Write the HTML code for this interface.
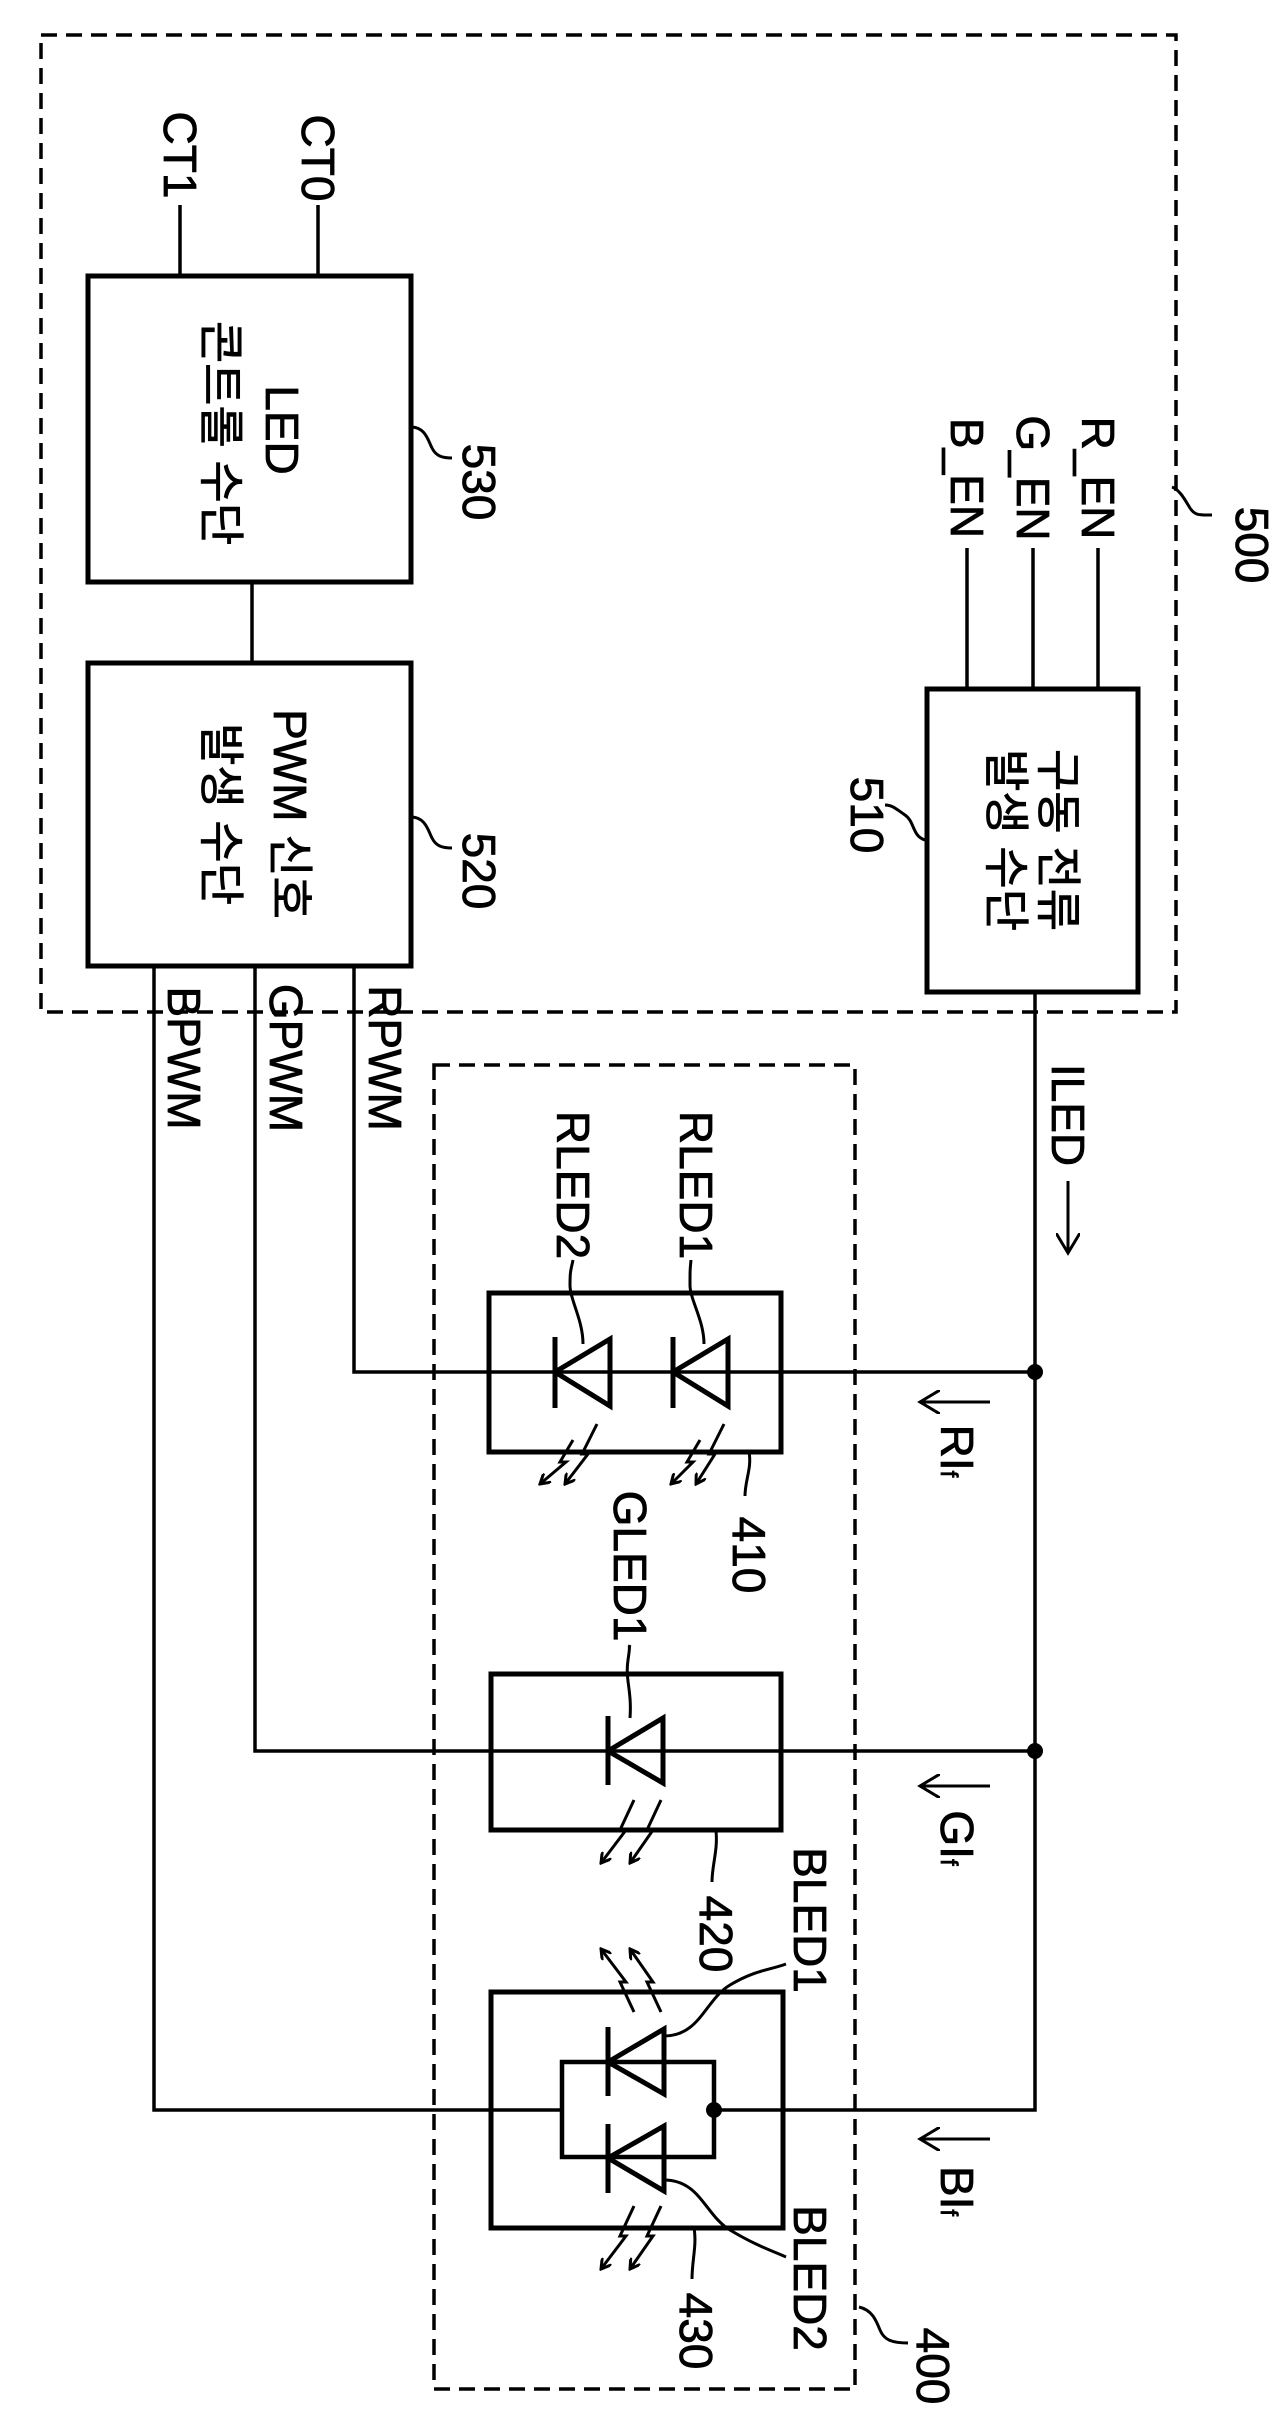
<!DOCTYPE html>
<html><head><meta charset="utf-8"><style>html,body{margin:0;padding:0;background:#fff}svg{display:block}</style></head>
<body>
<svg width="1277" height="2430" viewBox="0 0 1277 2430" xmlns="http://www.w3.org/2000/svg" font-family="'Liberation Sans','Noto Sans CJK KR',sans-serif" font-size="46" fill="#000">
<defs>
<marker id="ah" markerWidth="12" markerHeight="12" refX="10" refY="6" orient="auto" markerUnits="userSpaceOnUse"><path d="M0,0 L10,6 L0,12" fill="none" stroke="#000" stroke-width="3"/></marker>
<marker id="ah2" markerWidth="24" markerHeight="24" refX="20" refY="12" orient="auto" markerUnits="userSpaceOnUse"><path d="M0,0 L20,12 L0,24" fill="none" stroke="#000" stroke-width="3"/></marker>
</defs>
<g fill="none" stroke="#000">
<rect x="41" y="35" width="1135" height="977" stroke-width="3.5" stroke-dasharray="16,9"/>
<rect x="434" y="1065" width="421" height="1324" stroke-width="3.5" stroke-dasharray="16,9"/>
<rect x="88" y="276" width="323" height="306" stroke-width="5"/>
<rect x="88" y="663" width="323" height="303" stroke-width="5"/>
<rect x="927" y="689" width="211" height="303" stroke-width="5"/>
<rect x="489" y="1293" width="292" height="159" stroke-width="5"/>
<rect x="491" y="1674" width="290" height="156" stroke-width="5"/>
<rect x="491" y="1992" width="292" height="236" stroke-width="5"/>
<g stroke-width="3.5">
<line x1="180" y1="205" x2="180" y2="276"/>
<line x1="318" y1="205" x2="318" y2="276"/>
<line x1="252" y1="582" x2="252" y2="663"/>
<line x1="1098" y1="548" x2="1098" y2="689"/>
<line x1="1033" y1="548" x2="1033" y2="689"/>
<line x1="967" y1="548" x2="967" y2="689"/>
<polyline points="1035,992 1035,2110 714,2110"/>
<polyline points="354,966 354,1372 1035,1372"/>
<polyline points="255,966 255,1751 1035,1751"/>
<polyline points="154,966 154,2110 562,2110"/>
<rect x="562" y="2062" width="152" height="95" stroke-width="4.5"/>
</g>
<g stroke-width="5">
<line x1="555" y1="1337" x2="555" y2="1408"/><polygon points="555,1372 610,1339 610,1406"/>
<line x1="673" y1="1337" x2="673" y2="1408"/><polygon points="673,1372 728,1339 728,1406"/>
<line x1="608" y1="1716" x2="608" y2="1785"/><polygon points="608,1751 663,1718 663,1783"/>
<line x1="608" y1="2027" x2="608" y2="2096"/><polygon points="608,2062 664,2029 664,2094"/>
<line x1="608" y1="2124" x2="608" y2="2193"/><polygon points="608,2158 664,2126 664,2191"/>
</g>
<g stroke-width="3" marker-end="url(#ah)">
<polyline points="573,1440 560,1462 566,1462 540,1484"/>
<polyline points="597,1424 582,1454 588,1454 565,1484"/>
<polyline points="700,1440 687,1462 693,1462 671,1484"/>
<polyline points="724,1424 709,1454 715,1454 696,1484"/>
<polyline points="634,1800 620,1830 626,1830 601,1863"/>
<polyline points="661,1800 647,1830 653,1830 630,1863"/>
<polyline points="634,2012 620,1982 626,1982 601,1949"/>
<polyline points="661,2012 647,1982 653,1982 630,1949"/>
<polyline points="634,2206 620,2236 626,2236 601,2269"/>
<polyline points="661,2206 647,2236 653,2236 630,2269"/>
</g>
<g stroke-width="3" marker-end="url(#ah2)">
<line x1="1068" y1="1181" x2="1068" y2="1253"/>
<line x1="990" y1="1402" x2="920" y2="1402"/>
<line x1="990" y1="1786" x2="920" y2="1786"/>
<line x1="990" y1="2139" x2="920" y2="2139"/>
</g>
<g stroke-width="3">
<path d="M411,427 C425,427 428,440 432,448 S442,458 452,458"/>
<path d="M411,817 C425,817 428,830 432,838 S442,848 452,848"/>
<path d="M925,840 C912,836 915,822 905,815 S892,805 885,805"/>
<path d="M1172,487 C1180,490 1185,500 1190,508 S1200,515 1212,515"/>
<path d="M859,2307 C872,2310 876,2320 880,2330 S892,2343 908,2343"/>
<path d="M583,1344 C583,1320 570,1300 570,1285 S571,1270 573,1260"/>
<path d="M704,1344 C704,1320 690,1300 690,1285 S690,1270 691,1260"/>
<path d="M749,1452 C752,1468 745,1480 745,1496"/>
<path d="M630,1718 C632,1690 625,1680 628,1660 S628,1650 630,1645"/>
<path d="M716,1831 C718,1850 712,1865 712,1882"/>
<path d="M664,2036 C700,2036 705,2000 730,1985 S770,1970 786,1964"/>
<path d="M664,2180 C700,2180 705,2215 730,2230 S770,2250 786,2257"/>
<path d="M694,2228 C697,2245 692,2260 692,2279"/>
</g>
</g>
<g fill="#000"><circle cx="1035" cy="1372" r="8"/><circle cx="1035" cy="1751" r="8"/><circle cx="714" cy="2110" r="8"/></g>
<g text-anchor="middle" dominant-baseline="central" stroke="#000" stroke-width="0.8">
<text transform="translate(180,155) rotate(90)">CT1</text>
<text transform="translate(318,158) rotate(90)">CT0</text>
<text transform="translate(282,430) rotate(90)">LED</text>
<text transform="translate(221,433) rotate(90)">콘트롤 수단</text>
<text transform="translate(290,814) rotate(90)">PWM 신호</text>
<text transform="translate(221,814) rotate(90)">발생 수단</text>
<text transform="translate(1058,840) rotate(90)">구동 전류</text>
<text transform="translate(1006,840) rotate(90)">발생 수단</text>
<text transform="translate(1098,478) rotate(90)">R_EN</text>
<text transform="translate(1033,478) rotate(90)">G_EN</text>
<text transform="translate(967,478) rotate(90)">B_EN</text>
<text transform="translate(479,482) rotate(90)">530</text>
<text transform="translate(479,871) rotate(90)">520</text>
<text transform="translate(867,815) rotate(90)">510</text>
<text transform="translate(1252,545) rotate(90)">500</text>
<text transform="translate(184,1058) rotate(90)">BPWM</text>
<text transform="translate(286,1058) rotate(90)">GPWM</text>
<text transform="translate(385,1058) rotate(90)">RPWM</text>
<text transform="translate(1068,1115) rotate(90)">ILED</text>
<text transform="translate(573,1185) rotate(90)">RLED2</text>
<text transform="translate(696,1185) rotate(90)">RLED1</text>
<text transform="translate(630,1566) rotate(90)">GLED1</text>
<text transform="translate(810,1920) rotate(90)">BLED1</text>
<text transform="translate(810,2278) rotate(90)">BLED2</text>
<text transform="translate(749,1555) rotate(90)">410</text>
<text transform="translate(716,1934) rotate(90)">420</text>
<text transform="translate(696,2331) rotate(90)">430</text>
<text transform="translate(933,2366) rotate(90)">400</text>
<text transform="translate(957,1451) rotate(90)">RI<tspan font-size="24" dy="8">f</tspan></text>
<text transform="translate(957,1838) rotate(90)">GI<tspan font-size="24" dy="8">f</tspan></text>
<text transform="translate(957,2191) rotate(90)">BI<tspan font-size="24" dy="8">f</tspan></text>
</g>
</svg>
</body></html>
